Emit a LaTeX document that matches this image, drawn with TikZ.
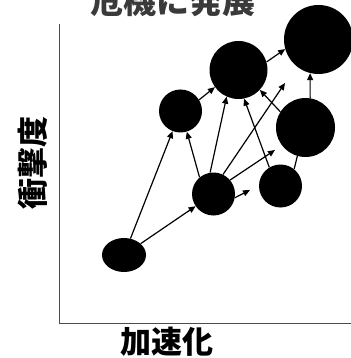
\documentclass[tikz,border=0pt]{standalone}
\usepackage{fontspec}
\newfontfamily\cjk{Noto Sans CJK JP}
\usetikzlibrary{arrows.meta,shapes.geometric}
\definecolor{titlegray}{HTML}{3A3A3A}
\tikzset{
  dot/.style={circle,fill=black,draw=none,inner sep=0pt,minimum size=#1},
  arr/.style={line width=1.2pt,-{Triangle[length=7pt,width=6pt]}},
  plainline/.style={line width=1.2pt},
  axis/.style={line width=1pt,draw=black!70},
  lab/.style={font=\cjk\bfseries\fontsize{31}{36}\selectfont,inner sep=0pt},
  titlelab/.style={font=\cjk\bfseries\fontsize{33}{38}\selectfont,inner sep=0pt,text=titlegray}
}
\begin{document}
\begin{tikzpicture}[x=1pt,y=-1pt]
\useasboundingbox (0,0) rectangle (350,358);
% axes
\coordinate (top) at (59,24);
\coordinate (origin) at (59,323);
\coordinate (right) at (351,323);
\draw[axis] (top) -- (origin) -- (right);
% labels
\node[titlelab,anchor=base] (title) at (172.5,14) {危機に発展};
\node[lab,anchor=base] (xlab) at (167,353) {加速化};
\node[lab,anchor=base,rotate=90] (ylab) at (44,162.5) {衝撃度};
% bubbles
\node[dot=58pt] (A) at (238.5,70) {};
\node[dot=69pt] (B) at (318.5,39.5) {};
\node[dot=43pt] (C) at (180.5,111) {};
\node[dot=59pt] (D) at (305.5,127.5) {};
\node[dot=43pt] (E) at (213.5,194) {};
\node[dot=43pt] (F) at (280.5,186) {};
\node[ellipse,fill=black,inner sep=0pt,minimum width=44pt,minimum height=34pt] (G) at (124,255) {};
% free ends
\coordinate (e1) at (285,83);
\coordinate (e2) at (275,150);
\coordinate (e3) at (250,190);
% connectors
\draw[arr] (G) -- (C);
\draw[arr] (G) -- (E);
\draw[arr] (E.130) -- (C.287);
\draw[arr] (E.99) -- (A.246);
\draw[arr] (C.31) -- (A.216);
\draw[arr] (F.121) -- (A.281);
\draw[arr] (D.148) -- (A.317);
\draw[arr] (E.64) -- (e1);
\draw[arr] (E.40) -- (e2);
\draw[arr] (E.350) -- (e3);
\draw[arr] (A.16) -- (B.196);
\draw[arr] (D.81) -- (B.256);
\draw[plainline] (F.51) -- (D.254);
\end{tikzpicture}
\end{document}
